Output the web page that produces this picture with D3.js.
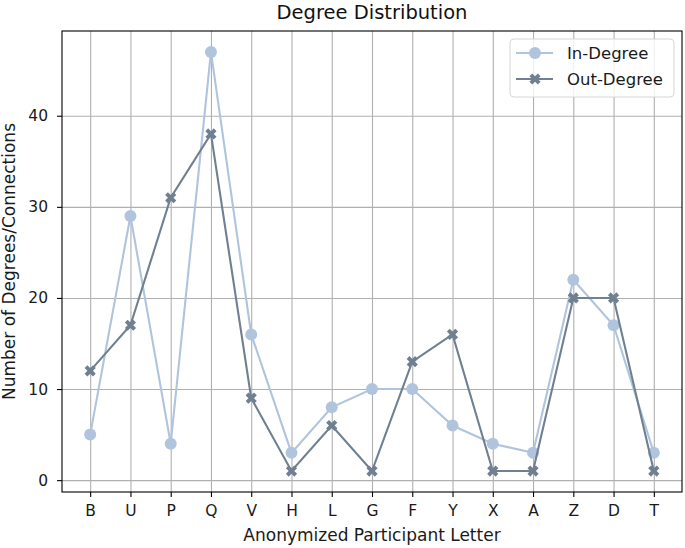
<!DOCTYPE html>
<html>
<head>
<meta charset="utf-8">
<script src="https://cdn.jsdelivr.net/npm/d3@7"></script>
<style>
  body { margin: 0; background: #fff; }
  svg { font-family: "DejaVu Sans", sans-serif; }
</style>
</head>
<body>
<svg></svg>
<script>
// participants in the order they appear on the x axis
const letters = ['B', 'U', 'P', 'Q', 'V', 'H', 'L', 'G', 'F', 'Y', 'X', 'A', 'Z', 'D', 'T'];
const inDegree = [5, 29, 4, 47, 16, 3, 8, 10, 10, 6, 4, 3, 22, 17, 3];
const outDegree = [12, 17, 31, 38, 9, 1, 6, 1, 13, 16, 1, 1, 20, 20, 1];
const yTicks = [0, 10, 20, 30, 40];

const titleText = 'Degree Distribution';
const xAxisLabelText = 'Anonymized Participant Letter';
const yAxisLabelText = 'Number of Degrees/Connections';

const width = 685;
const height = 548;
const margin = { top: 31, right: 3, bottom: 56, left: 62 };
const innerW = width - margin.left - margin.right;
const innerH = height - margin.top - margin.bottom;

const inColor = '#b0c4de';
const outColor = '#708090';

const svg = d3.select('svg')
  .attr('width', width)
  .attr('height', height);

const chart = svg.append('g')
  .attr('transform', `translate(${margin.left}, ${margin.top})`);

const xScale = d3.scalePoint()
  .domain(letters)
  .range([0, innerW])
  .padding(0.7);

// matplotlib style 5% margin around 1..47
const yScale = d3.scaleLinear()
  .domain([-1.3, 49.3])
  .range([innerH, 0]);

// grid
chart.append('g')
  .attr('class', 'grid')
  .call(d3.axisBottom(xScale).tickSize(innerH).tickFormat(''))
  .call(g => g.select('.domain').remove())
  .selectAll('line')
  .attr('stroke', '#b0b0b0')
  .attr('stroke-width', 1.1);

chart.append('g')
  .attr('class', 'grid')
  .call(d3.axisLeft(yScale).tickValues(yTicks).tickSize(-innerW).tickFormat(''))
  .call(g => g.select('.domain').remove())
  .selectAll('line')
  .attr('stroke', '#b0b0b0')
  .attr('stroke-width', 1.1);

// axes
const xAxis = chart.append('g')
  .attr('transform', `translate(0, ${innerH})`)
  .call(d3.axisBottom(xScale).tickSize(5).tickPadding(8));
xAxis.select('.domain').remove();

const yAxis = chart.append('g')
  .call(d3.axisLeft(yScale).tickValues(yTicks).tickSize(5).tickPadding(9));
yAxis.select('.domain').remove();

[xAxis, yAxis].forEach(ax => {
  ax.selectAll('line').attr('stroke', '#000').attr('stroke-width', 1.1);
  ax.selectAll('text')
    .attr('fill', '#1a1a1a')
    .style('font-size', '15.5px')
    .style('font-family', '"DejaVu Sans", sans-serif');
});

// frame
chart.append('rect')
  .attr('width', innerW)
  .attr('height', innerH)
  .attr('fill', 'none')
  .attr('stroke', '#000')
  .attr('stroke-width', 1.1);

// series
const line = d3.line()
  .x((d, i) => xScale(letters[i]))
  .y(d => yScale(d));

// filled 'X' marker like matplotlib
function xMarker(r, t) {
  const pts = [[t, 0], [r, r - t], [r - t, r], [0, t], [-(r - t), r], [-r, r - t],
    [-t, 0], [-r, -(r - t)], [-(r - t), -r], [0, -t], [r - t, -r], [r, -(r - t)]];
  return 'M' + pts.map(p => p.join(',')).join('L') + 'Z';
}

chart.append('path')
  .datum(inDegree)
  .attr('fill', 'none')
  .attr('stroke', inColor)
  .attr('stroke-width', 2.1)
  .attr('d', line);

chart.selectAll('.in-dot')
  .data(inDegree)
  .enter()
  .append('circle')
  .attr('class', 'in-dot')
  .attr('cx', (d, i) => xScale(letters[i]))
  .attr('cy', d => yScale(d))
  .attr('r', 6)
  .attr('fill', inColor);

chart.append('path')
  .datum(outDegree)
  .attr('fill', 'none')
  .attr('stroke', outColor)
  .attr('stroke-width', 2.1)
  .attr('d', line);

chart.selectAll('.out-dot')
  .data(outDegree)
  .enter()
  .append('path')
  .attr('class', 'out-dot')
  .attr('transform', (d, i) => `translate(${xScale(letters[i])}, ${yScale(d)})`)
  .attr('d', xMarker(5.6, 2.8))
  .attr('fill', outColor);

// title + labels
svg.append('text')
  .attr('x', margin.left + innerW / 2)
  .attr('y', 19)
  .attr('text-anchor', 'middle')
  .attr('fill', '#111')
  .style('font-size', '19.5px')
  .text(titleText);

svg.append('text')
  .attr('x', margin.left + innerW / 2)
  .attr('y', 541)
  .attr('text-anchor', 'middle')
  .attr('fill', '#1a1a1a')
  .style('font-size', '17px')
  .text(xAxisLabelText);

svg.append('text')
  .attr('transform', `translate(15, ${margin.top + innerH / 2}) rotate(-90)`)
  .attr('text-anchor', 'middle')
  .attr('fill', '#1a1a1a')
  .style('font-size', '17px')
  .text(yAxisLabelText);

// legend
const legend = svg.append('g')
  .attr('transform', 'translate(510, 39)');

legend.append('rect')
  .attr('width', 164)
  .attr('height', 58)
  .attr('rx', 4)
  .attr('fill', '#fff')
  .attr('fill-opacity', 0.8)
  .attr('stroke', '#d6d6d6');

const items = [
  { label: 'In-Degree', color: inColor, marker: 'circle' },
  { label: 'Out-Degree', color: outColor, marker: 'x' }
];

items.forEach((it, i) => {
  const g = legend.append('g').attr('transform', `translate(0, ${14 + i * 26})`);
  g.append('line')
    .attr('x1', 6).attr('x2', 43)
    .attr('stroke', it.color)
    .attr('stroke-width', 2.1);
  if (it.marker === 'circle') {
    g.append('circle').attr('cx', 25).attr('r', 6).attr('fill', it.color);
  } else {
    g.append('path').attr('transform', 'translate(25,0)').attr('d', xMarker(5.6, 2.8)).attr('fill', it.color);
  }
  g.append('text')
    .attr('x', 57)
    .attr('y', 6)
    .attr('fill', '#1a1a1a')
    .style('font-size', '16.5px')
    .text(it.label);
});
</script>
</body>
</html>
